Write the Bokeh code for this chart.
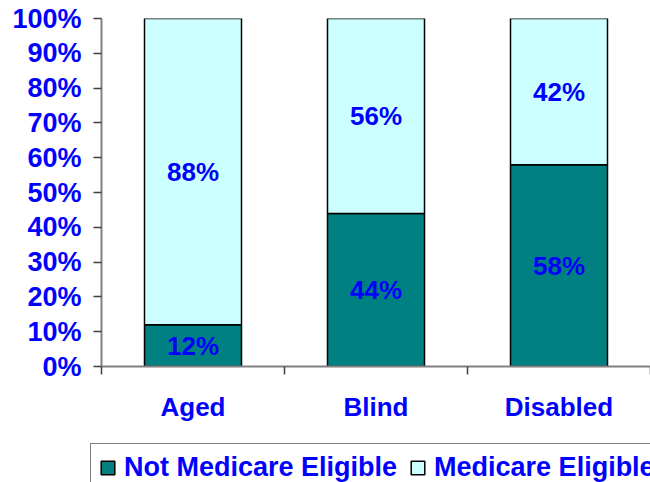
from bokeh.plotting import figure
from bokeh.layouts import column
from bokeh.models import FixedTicker, Legend, LegendItem, ColumnDataSource, Range1d, LabelSet
from bokeh.core.properties import value
from bokeh.embed import file_html
from bokeh.resources import INLINE

categories = ["Aged", "Blind", "Disabled"]
not_eligible = [12, 44, 58]
eligible = [88, 56, 42]
y_ticks = [0, 10, 20, 30, 40, 50, 60, 70, 80, 90, 100]
y_tick_labels = ["0%", "10%", "20%", "30%", "40%", "50%", "60%", "70%", "80%", "90%", "100%"]
series_names = ["Not Medicare Eligible", "Medicare Eligible"]

FONT = "Liberation Sans"
BLUE = "#0000FF"
TEAL = "#008080"
CYAN = "#CCFFFF"
series_colors = [TEAL, CYAN]

xpos = [i + 0.5 for i in range(len(categories))]
src = ColumnDataSource(dict(
    x=xpos,
    ne_top=not_eligible,
    el_top=[a + b for a, b in zip(not_eligible, eligible)],
    ne_mid=[a / 2 for a in not_eligible],
    el_mid=[a + b / 2 for a, b in zip(not_eligible, eligible)],
    ne_lab=[f"{v}%" for v in not_eligible],
    el_lab=[f"{v}%" for v in eligible],
))

p = figure(width=650, height=440, output_backend="svg", toolbar_location=None,
           x_range=Range1d(0, len(categories)), y_range=Range1d(0, 100),
           min_border_left=101, min_border_right=0, min_border_top=18, min_border_bottom=74)
p.outline_line_color = None
p.xgrid.visible = False
p.ygrid.visible = False

p.vbar(x="x", bottom=0, top="ne_top", width=0.53, source=src,
       fill_color=TEAL, line_color="black", line_width=1.5)
p.vbar(x="x", bottom="ne_top", top="el_top", width=0.53, source=src,
       fill_color=CYAN, line_color="black", line_width=1.5)

for ycol, tcol in (("ne_mid", "ne_lab"), ("el_mid", "el_lab")):
    p.add_layout(LabelSet(x="x", y=ycol, text=tcol, source=src,
                          text_align="center", text_baseline="middle",
                          text_font=value(FONT), text_font_style="bold",
                          text_font_size="26px", text_color=BLUE))

# y axis
ya = p.yaxis[0]
ya.ticker = FixedTicker(ticks=y_ticks)
ya.major_label_overrides = {t: l for t, l in zip(y_ticks, y_tick_labels)}
ya.major_label_text_font = FONT
ya.major_label_text_font_style = "bold"
ya.major_label_text_font_size = "27px"
ya.major_label_text_color = BLUE
ya.major_label_standoff = 12
ya.axis_line_color = "#808080"
ya.axis_line_width = 2
ya.major_tick_line_color = "#404040"
ya.major_tick_line_width = 1.5
ya.major_tick_out = 8
ya.major_tick_in = 0
ya.minor_tick_line_color = None

# x axis
xa = p.xaxis[0]
xa.ticker = FixedTicker(ticks=xpos, minor_ticks=list(range(len(categories) + 1)))
xa.major_label_overrides = {x: c for x, c in zip(xpos, categories)}
xa.major_label_text_font = FONT
xa.major_label_text_font_style = "bold"
xa.major_label_text_font_size = "26px"
xa.major_label_text_color = BLUE
xa.major_label_standoff = 17
xa.axis_line_color = "#808080"
xa.axis_line_width = 2
xa.major_tick_line_color = None
xa.major_tick_out = 0
xa.major_tick_in = 0
xa.minor_tick_line_color = "#404040"
xa.minor_tick_line_width = 1.5
xa.minor_tick_out = 8
xa.minor_tick_in = 0

# legend strip (own figure so the legend box is not clipped by the chart frame)
lg = figure(width=650, height=42, output_backend="svg", toolbar_location=None,
            x_range=Range1d(0, 1), y_range=Range1d(0, 1),
            x_axis_location=None, y_axis_location=None,
            min_border_left=0, min_border_right=0, min_border_top=0, min_border_bottom=0)
lg.outline_line_color = None
lg.xgrid.visible = False
lg.ygrid.visible = False
items = []
for name, col in zip(series_names, series_colors):
    # tiny swatch source hidden under the legend box; only its style feeds the legend glyph
    r = lg.vbar(x=[0.5], top=[0.2], width=0.01, fill_color=col, line_color="black", line_width=1.5)
    items.append(LegendItem(label=name, renderers=[r]))

for fig in (p, lg):
    if "frame_align" in fig.properties():
        fig.frame_align = False

legend = Legend(items=items, location=(90, -10), orientation="horizontal",
                label_text_font=FONT, label_text_font_style="bold",
                label_text_font_size="27px", label_text_color=BLUE,
                glyph_width=17, glyph_height=17, label_standoff=8, spacing=12,
                padding=8, margin=0,
                border_line_color="black", border_line_width=1.5,
                background_fill_color="white", background_fill_alpha=1)
lg.add_layout(legend, "center")

layout = column(p, lg, spacing=0)
open("out.html", "w").write(file_html(layout, INLINE))
